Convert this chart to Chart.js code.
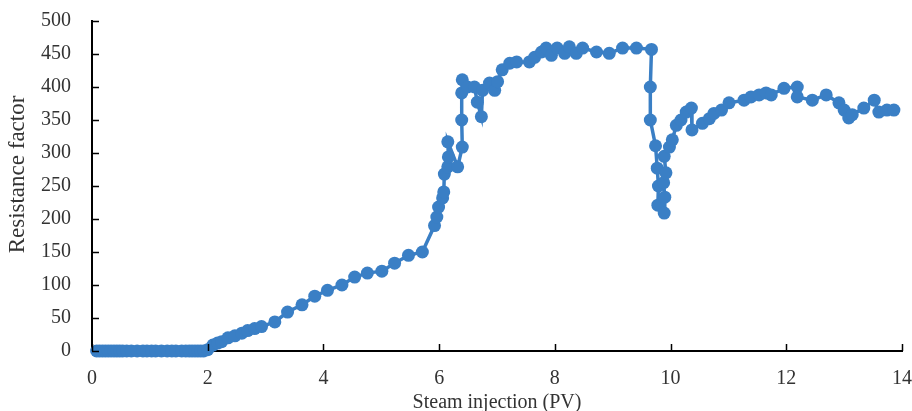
<!DOCTYPE html>
<html>
<head>
<meta charset="utf-8">
<script src="https://cdn.jsdelivr.net/npm/chart.js@4/dist/chart.umd.min.js"></script>
<style>
  html, body { margin: 0; padding: 0; background: #fff; }
  #wrap { width: 912px; height: 411px; position: relative; }
</style>
</head>
<body>
<div id="wrap"><canvas id="c" width="912" height="411"></canvas></div>
<script>
// Steam injection (PV)
const pvValues = [
  0.08,0.13,0.18,0.23,0.28,0.33,0.38,0.43,0.48,0.53,0.60,0.68,0.78,0.88,0.95,1.03,1.10,1.20,1.30,1.38,1.45,1.55,1.62,1.68,1.73,1.78,1.83,1.88,1.93,
  2.00,2.09,2.17,2.24,2.35,2.47,2.59,2.69,2.81,2.93,3.16,3.38,3.63,3.85,4.07,4.32,4.54,4.76,5.01,5.23,5.47,5.71,
  5.92,5.96,5.99,6.06,6.08,6.09,6.15,6.16,6.15,6.32,6.40,6.39,6.39,6.40,6.49,6.61,6.66,6.73,6.75,6.87,6.96,7.01,7.09,7.22,7.34,
  7.56,7.65,7.77,7.85,7.94,8.04,8.17,8.25,8.37,8.48,8.72,8.94,9.17,9.41,9.67,
  9.65,9.65,9.74,9.77,9.79,9.78,9.89,9.90,9.88,9.92,9.89,9.98,10.03,10.10,10.18,10.27,10.36,10.37,
  10.55,10.67,10.75,10.88,11.01,11.27,11.39,11.53,11.65,11.74,11.96,12.19,12.19,12.45,12.69,12.91,13.00,13.08,13.14,13.34,13.52,13.60,13.74,13.86
];
// Resistance factor
const resistanceValues = [
  0,0,0,0,0,0,0,0,0,0,0,0,0,0,0,0,0,0,0,0,0,0,0,0,0,0,0,0,0,
  2,9,12,14,20,23,27,31,34,37,44,59,70,83,92,100,112,118,121,133,145,150,
  190,203,218,232,241,268,279,294,317,279,309,350,391,411,400,400,377,355,395,406,395,408,426,436,438,
  438,445,453,459,448,459,451,461,451,459,453,451,459,459,457,
  400,350,311,277,250,221,209,233,255,270,295,309,320,342,350,362,368,335,
  345,352,360,365,376,380,385,388,391,388,398,400,385,380,388,376,365,353,358,368,380,362,365,365
];
const xTickValues = [0,2,4,6,8,10,12,14];
const yTickValues = [0,50,100,150,200,250,300,350,400,450,500];
const xTitle = 'Steam injection (PV)';
const yTitle = '\u00A0\u00A0\u00A0\u00A0Resistance factor';

const points = pvValues.map((x, i) => ({ x: x, y: resistanceValues[i] }));
const BLUE = '#3A7FC5';
const FONT = 'Liberation Serif, "Times New Roman", serif';

// Inward tick marks
const innerTicks = {
  id: 'innerTicks',
  afterDraw(chart) {
    const ctx = chart.ctx;
    const xs = chart.scales.x, ys = chart.scales.y;
    const area = chart.chartArea;
    ctx.save();
    ctx.strokeStyle = '#000';
    ctx.lineWidth = 1.5;
    ctx.beginPath();
    yTickValues.forEach(v => {
      const py = Math.round(ys.getPixelForValue(v)) + 0.5;
      ctx.moveTo(area.left, py);
      ctx.lineTo(area.left + 7, py);
    });
    xTickValues.forEach(v => {
      const px = Math.round(xs.getPixelForValue(v)) + 0.5;
      ctx.moveTo(px, area.bottom);
      ctx.lineTo(px, area.bottom - 7);
    });
    ctx.stroke();
    ctx.restore();
  }
};

new Chart(document.getElementById('c'), {
  type: 'line',
  data: {
    datasets: [{
      data: points,
      borderColor: BLUE,
      backgroundColor: BLUE,
      borderWidth: 3.5,
      pointRadius: 6.5,
      pointBorderWidth: 0,
      pointBackgroundColor: BLUE,
      tension: 0,
      clip: false
    }]
  },
  options: {
    responsive: false,
    animation: false,
    devicePixelRatio: 1,
    layout: { padding: { left: 4, right: 9, top: 21, bottom: -4 } },
    plugins: { legend: { display: false }, tooltip: { enabled: false } },
    scales: {
      x: {
        type: 'linear',
        min: 0, max: 14,
        afterBuildTicks: s => { s.ticks = xTickValues.map(v => ({ value: v })); },
        afterFit: s => { s.height = 64; },
        ticks: { color: '#333', font: { family: FONT, size: 20 }, padding: 0, maxRotation: 0 },
        grid: { display: true, drawOnChartArea: false, drawTicks: true, tickLength: 16, tickColor: 'rgba(0,0,0,0)' },
        border: { display: true, color: '#000', width: 2 },
        title: { display: true, text: xTitle, color: '#333', font: { family: FONT, size: 20 }, padding: { top: 0, bottom: 0 } }
      },
      y: {
        min: 0, max: 500,
        afterBuildTicks: s => { s.ticks = yTickValues.map(v => ({ value: v })); },
        afterFit: s => { s.width = 88; },
        ticks: { color: '#333', font: { family: FONT, size: 20 }, padding: 0 },
        grid: { display: true, drawOnChartArea: false, drawTicks: true, tickLength: 21, tickColor: 'rgba(0,0,0,0)' },
        border: { display: true, color: '#000', width: 2 },
        title: { display: true, text: yTitle, color: '#333', font: { family: FONT, size: 23 }, padding: { top: 0, bottom: 0 } }
      }
    }
  },
  plugins: [innerTicks]
});
</script>
</body>
</html>
